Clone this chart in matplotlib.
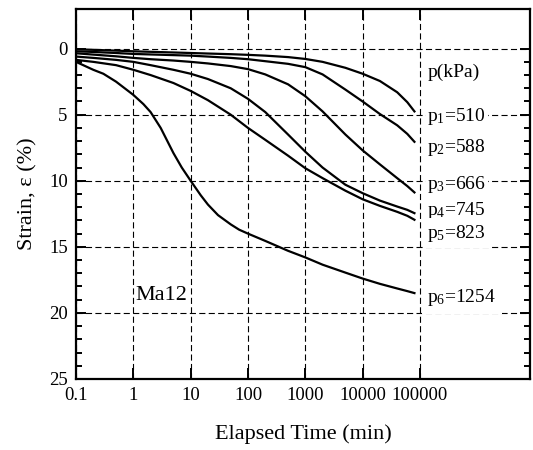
"""Creep curves: strain vs elapsed time for specimen Ma12 at six pressures."""

import matplotlib

matplotlib.use("Agg")
import matplotlib.pyplot as plt
from matplotlib.ticker import FixedLocator, FixedFormatter, NullLocator

# elapsed time (min) shared by curves p1..p5
TIME_MIN = [0.1, 0.2, 0.5, 1, 2, 5, 10, 20, 50, 100, 200, 500, 1000, 2000, 5000,
            10000, 20000, 40000, 60000, 80000]
STRAIN_P1 = [0.05, 0.09, 0.15, 0.2, 0.24, 0.29, 0.33, 0.37, 0.42, 0.47, 0.53, 0.64,
             0.78, 1.0, 1.45, 1.9, 2.45, 3.3, 4.05, 4.75]
STRAIN_P2 = [0.2, 0.25, 0.33, 0.4, 0.44, 0.49, 0.53, 0.6, 0.7, 0.8, 0.95, 1.15,
             1.4, 1.95, 3.1, 4.0, 4.95, 5.8, 6.45, 7.05]
STRAIN_P3 = [0.35, 0.45, 0.58, 0.7, 0.8, 0.9, 1.0, 1.12, 1.32, 1.55, 1.95, 2.7,
             3.6, 4.75, 6.5, 7.7, 8.76, 9.8, 10.4, 10.88]
STRAIN_P4 = [0.6, 0.7, 0.85, 1.0, 1.25, 1.6, 1.9, 2.3, 3.0, 3.8, 4.8, 6.5,
             7.8, 9.0, 10.3, 10.94, 11.5, 11.95, 12.2, 12.45]
STRAIN_P5 = [0.85, 1.0, 1.25, 1.6, 2.0, 2.6, 3.2, 3.9, 5.0, 6.0, 6.9, 8.1,
             9.05, 9.8, 10.75, 11.4, 11.9, 12.35, 12.65, 12.95]

# p6 collapses early, read on its own time grid
TIME_P6 = [0.1, 0.2, 0.3, 0.5, 1, 1.5, 2, 3, 5, 7, 10, 15, 20, 30, 50, 70, 100,
           200, 500, 1000, 2000, 5000, 10000, 20000, 40000, 60000, 80000]
STRAIN_P6 = [1.0, 1.6, 1.9, 2.5, 3.5, 4.2, 4.8, 6.0, 7.9, 9.0, 10.0, 11.1, 11.8,
             12.6, 13.3, 13.7, 14.0, 14.55, 15.3, 15.8, 16.35, 16.95, 17.4, 17.8,
             18.15, 18.35, 18.5]

PRESSURES_KPA = [510, 588, 666, 745, 823, 1254]
SPECIMEN = "Ma12"

X_TICKS = [0.1, 1, 10, 100, 1000, 10000, 100000]
X_TICK_LABELS = ["0.1", "1", "10", "100", "1000", "10000", "100000"]
Y_TICKS = [0, 5, 10, 15, 20, 25]
Y_MINOR_TICKS = list(range(0, 26))

# label placement (layout only)
LABEL_X = 1.35e5
LABEL_Y = [5.47, 7.82, 10.6, 12.6, 14.3, 19.2]
LABEL_PAD = [1, 1, 1, 1, 3.5, 4]


def main() -> None:
    plt.rcParams["font.family"] = ["Liberation Serif", "DejaVu Serif"]
    plt.rcParams["mathtext.fontset"] = "custom"
    plt.rcParams["mathtext.rm"] = "Liberation Serif"
    plt.rcParams["mathtext.it"] = "Liberation Serif:italic"

    fig = plt.figure(figsize=(5.33, 4.5), dpi=100)
    ax = fig.add_axes([0.1426, 0.1578, 0.8518, 0.8222])

    curves = [
        (TIME_MIN, STRAIN_P1),
        (TIME_MIN, STRAIN_P2),
        (TIME_MIN, STRAIN_P3),
        (TIME_MIN, STRAIN_P4),
        (TIME_MIN, STRAIN_P5),
        (TIME_P6, STRAIN_P6),
    ]
    for xs, ys in curves:
        ax.plot(xs, ys, color="black", linewidth=1.6, zorder=3)

    ax.set_xscale("log")
    ax.set_xlim(0.1, 8.3e6)
    ax.set_ylim(25, -3)

    ax.xaxis.set_major_locator(FixedLocator(X_TICKS))
    ax.xaxis.set_major_formatter(FixedFormatter(X_TICK_LABELS))
    ax.xaxis.set_minor_locator(NullLocator())
    ax.yaxis.set_major_locator(FixedLocator(Y_TICKS))
    ax.yaxis.set_minor_locator(FixedLocator(Y_MINOR_TICKS))

    ax.tick_params(which="major", axis="x", direction="in", length=8, width=1.4,
                   top=True, bottom=True, labelsize=13.5, pad=6)
    ax.tick_params(which="major", axis="y", direction="in", length=7.5, width=1.4,
                   left=True, right=True, labelsize=13.5, pad=6)
    ax.tick_params(which="minor", axis="y", direction="in", length=4.5, width=1.4,
                   left=True, right=True)

    for spine in ax.spines.values():
        spine.set_linewidth(1.6)

    ax.grid(True, which="major", color="black", linewidth=0.8,
            linestyle=(0, (5.5, 3)), zorder=1)
    ax.set_axisbelow(True)

    ax.set_xlabel("Elapsed Time (min)", fontsize=16, labelpad=14)
    ax.set_ylabel("Strain, ε (%)", fontsize=16, labelpad=8)

    ax.text(LABEL_X, 2.17, "p(kPa)", fontsize=14, ha="left", va="baseline", zorder=4)
    for i, (p, y) in enumerate(zip(PRESSURES_KPA, LABEL_Y)):
        ax.text(LABEL_X, y, f"p$_{{{i + 1}}}$={p}", fontsize=14, ha="left",
                va="baseline", zorder=4,
                bbox=dict(facecolor="white", edgecolor="none", pad=LABEL_PAD[i]))

    ax.text(1.07, 19.0, SPECIMEN, fontsize=16, ha="left", va="baseline", zorder=4)

    fig.savefig("out.png", dpi=100)
    plt.close(fig)


if __name__ == "__main__":
    main()
